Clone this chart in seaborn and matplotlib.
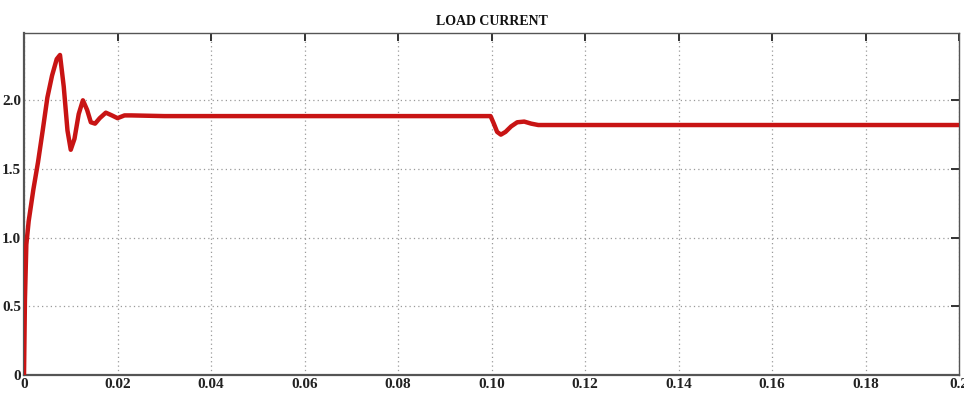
import matplotlib
matplotlib.use("Agg")
import matplotlib.pyplot as plt
import seaborn as sns
import pandas as pd

# Data (time in s, load current in A)
time_s = [0.0, 0.0002, 0.0005, 0.001, 0.002, 0.003, 0.004, 0.005, 0.006, 0.007,
          0.0077, 0.0085, 0.0093, 0.0100, 0.0108, 0.0117, 0.0126, 0.0135, 0.0143,
          0.0152, 0.0162, 0.0175, 0.0188, 0.0200, 0.0215, 0.0230, 0.030, 0.050,
          0.070, 0.090, 0.0998, 0.1005, 0.1012, 0.1020, 0.1030, 0.1042, 0.1055,
          0.1070, 0.1085, 0.1100, 0.120, 0.140, 0.160, 0.180, 0.200]
current_a = [0.0, 0.55, 0.95, 1.12, 1.35, 1.55, 1.78, 2.02, 2.18, 2.30,
             2.33, 2.10, 1.78, 1.64, 1.72, 1.90, 2.00, 1.93, 1.84,
             1.83, 1.87, 1.91, 1.89, 1.87, 1.89, 1.89, 1.885, 1.885,
             1.885, 1.885, 1.885, 1.83, 1.77, 1.75, 1.77, 1.81, 1.84,
             1.845, 1.83, 1.82, 1.82, 1.82, 1.82, 1.82, 1.82]
x_ticks = [0, 0.02, 0.04, 0.06, 0.08, 0.10, 0.12, 0.14, 0.16, 0.18, 0.2]
x_tick_labels = ["0", "0.02", "0.04", "0.06", "0.08", "0.10", "0.12", "0.14", "0.16", "0.18", "0.2"]
y_ticks = [0, 0.5, 1.0, 1.5, 2.0]
y_tick_labels = ["0", "0.5", "1.0", "1.5", "2.0"]
title_text = "LOAD CURRENT"

df = pd.DataFrame({"t": time_s, "i": current_a})

sns.set_theme(style="white")
plt.rcParams["font.family"] = ["Liberation Serif", "DejaVu Serif"]

fig = plt.figure(figsize=(9.64, 4.03), dpi=100)
ax = fig.add_axes([24 / 964, (403 - 375) / 403, (959 - 24) / 964, (375 - 33) / 403])

sns.lineplot(data=df, x="t", y="i", ax=ax, color="#c81414", linewidth=3.2, zorder=3)

ax.set_xlim(0, 0.2)
ax.set_ylim(0, 2.49)
ax.set_xticks(x_ticks)
ax.set_xticklabels(x_tick_labels, fontsize=11, fontweight="bold", color="#222222")
ax.set_yticks(y_ticks)
ax.set_yticklabels(y_tick_labels, fontsize=11, fontweight="bold", color="#222222")
ax.set_xlabel("")
ax.set_ylabel("")
ax.grid(True, linestyle=(0, (1, 2.5)), color="#9a9a9a", linewidth=0.9)
ax.tick_params(axis="both", direction="in", length=6, width=1.4, color="#333333",
               top=True, right=True, pad=2)
for name, sp in ax.spines.items():
    sp.set_color("#555555")
    sp.set_linewidth(1.6 if name in ("left", "bottom") else 1.0)
ax.set_title(title_text, fontsize=10, fontweight="bold", color="#111111", pad=6)

fig.savefig("out.png", dpi=100)
